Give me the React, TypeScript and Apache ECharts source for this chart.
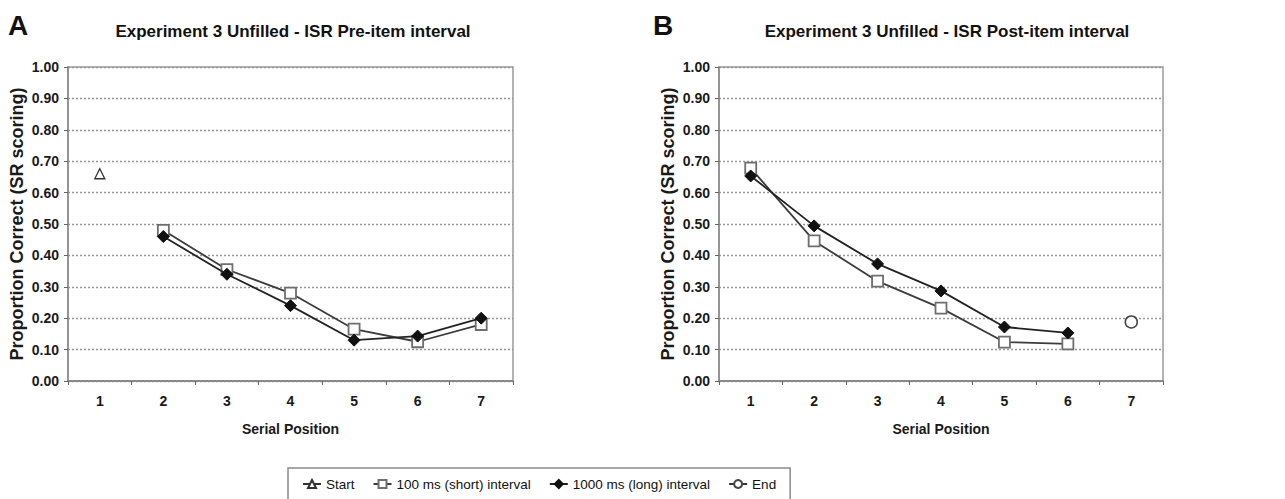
import React, { useEffect, useRef } from "react";
import * as echarts from "echarts";

// Serial positions on the x axis
const positions = ["1", "2", "3", "4", "5", "6", "7"];

// Panel titles
const panelLetters = ["A", "B"];
const panelTitles = [
  "Experiment 3 Unfilled - ISR Pre-item interval",
  "Experiment 3 Unfilled - ISR Post-item interval",
];

// Series names
const nameStart = "Start";
const nameShort = "100 ms (short) interval";
const nameLong = "1000 ms (long) interval";
const nameEnd = "End";

// Panel A: pre-item interval (proportion correct, SR scoring)
const preStart = [0.66, null, null, null, null, null, null];
const preShort = [null, 0.48, 0.355, 0.28, 0.165, 0.125, 0.18];
const preLong = [null, 0.46, 0.34, 0.24, 0.13, 0.143, 0.2];

// Panel B: post-item interval
const postShort = [0.678, 0.446, 0.318, 0.232, 0.124, 0.118, null];
const postLong = [0.653, 0.494, 0.373, 0.287, 0.172, 0.153, null];
const postEnd = [null, null, null, null, null, null, 0.188];

const FONT = '"Liberation Sans", Arial, sans-serif';
const toData = (arr: (number | null)[]) => arr.map((v) => (v === null ? "-" : v));

export default function App() {
  const ref = useRef<HTMLDivElement>(null);

  useEffect(() => {
    document.body.style.margin = "0";
    if (!ref.current) return;
    const chart = echarts.init(ref.current, undefined, { renderer: "svg" });

    const grids = [
      { left: 68, top: 67, width: 445, height: 314 },
      { left: 719, top: 67, width: 444, height: 314 },
    ];

    const xAxis = grids.map((_, i) => ({
      type: "category" as const,
      gridIndex: i,
      data: positions,
      boundaryGap: true,
      axisLine: { lineStyle: { color: "#8a8a8a", width: 2 } },
      axisTick: { show: true, length: 4, lineStyle: { color: "#666", width: 1 } },
      axisLabel: {
        margin: 13,
        fontFamily: FONT,
        fontSize: 14,
        fontWeight: "bold" as const,
        color: "#1a1a1a",
      },
      name: "Serial Position",
      nameLocation: "middle" as const,
      nameGap: 41,
      nameTextStyle: { fontFamily: FONT, fontSize: 14, fontWeight: "bold" as const, color: "#1a1a1a" },
      splitLine: { show: false },
    }));

    const yAxis = grids.map((_, i) => ({
      type: "value" as const,
      gridIndex: i,
      min: 0,
      max: 1,
      interval: 0.1,
      axisLine: { show: true, lineStyle: { color: "#8a8a8a", width: 1.5 } },
      axisTick: { show: true, length: 4, lineStyle: { color: "#666" } },
      axisLabel: {
        margin: 9,
        fontFamily: FONT,
        fontSize: 14,
        fontWeight: "bold" as const,
        color: "#1a1a1a",
        formatter: (v: number) => v.toFixed(2),
      },
      splitLine: { show: true, lineStyle: { color: "#969696", type: [2, 2] as any, width: 1.3 } },
      name: "Proportion Correct (SR scoring)",
      nameLocation: "middle" as const,
      nameGap: 42,
      nameTextStyle: { fontFamily: FONT, fontSize: 18, fontWeight: "bold" as const, color: "#1a1a1a" },
    }));

    const shortStyle = (i: number, data: (number | null)[]) => ({
      name: nameShort,
      type: "line" as const,
      xAxisIndex: i,
      yAxisIndex: i,
      data: toData(data),
      symbol: "rect",
      symbolSize: 11,
      lineStyle: { color: "#3c3c3c", width: 1.8 },
      itemStyle: { color: "#ffffff", borderColor: "#6e6e6e", borderWidth: 1.8 },
      z: 3,
    });
    const longStyle = (i: number, data: (number | null)[]) => ({
      name: nameLong,
      type: "line" as const,
      xAxisIndex: i,
      yAxisIndex: i,
      data: toData(data),
      symbol: "diamond",
      symbolSize: 12,
      lineStyle: { color: "#222", width: 1.8 },
      itemStyle: { color: "#111", borderColor: "#111", borderWidth: 1 },
      z: 4,
    });

    const option = {
      animation: false,
      backgroundColor: "#ffffff",
      grid: grids.map((g) => ({ ...g, show: true, borderColor: "#9a9a9a", borderWidth: 1.5, backgroundColor: "transparent" })),
      xAxis,
      yAxis,
      legend: {
        data: [nameStart, nameShort, nameLong, nameEnd],
        left: 288,
        top: 468,
        padding: [9, 14, 9, 14],
        borderColor: "#8a8a8a",
        borderWidth: 1.5,
        itemGap: 18,
        itemWidth: 18,
        itemHeight: 10,
        textStyle: { fontFamily: FONT, fontSize: 13.5, color: "#111" },
        selectedMode: false,
      },
      graphic: [
        ...panelLetters.map((t, i) => ({
          type: "text",
          x: i === 0 ? 8 : 653,
          y: 25,
          style: {
            text: t,
            font: `bold 28px ${FONT}`,
            fill: "#111",
            textAlign: "left",
            textVerticalAlign: "middle",
            align: "left",
            verticalAlign: "middle",
          },
        })),
        ...panelTitles.map((t, i) => ({
          type: "text",
          x: i === 0 ? 293 : 947,
          y: 31,
          style: {
            text: t,
            font: `bold 17px ${FONT}`,
            fill: "#111",
            textAlign: "center",
            textVerticalAlign: "middle",
            align: "center",
            verticalAlign: "middle",
          },
        })),
      ],
      series: [
        {
          name: nameStart,
          type: "line",
          xAxisIndex: 0,
          yAxisIndex: 0,
          data: toData(preStart),
          symbol: "triangle",
          symbolSize: 10,
          lineStyle: { color: "#333", width: 1.5 },
          itemStyle: { color: "#ffffff", borderColor: "#333", borderWidth: 1.3 },
        },
        shortStyle(0, preShort),
        longStyle(0, preLong),
        shortStyle(1, postShort),
        longStyle(1, postLong),
        {
          name: nameEnd,
          type: "line",
          xAxisIndex: 1,
          yAxisIndex: 1,
          data: toData(postEnd),
          symbol: "circle",
          symbolSize: 12,
          lineStyle: { color: "#333", width: 1.5 },
          itemStyle: { color: "#ffffff", borderColor: "#444", borderWidth: 1.5 },
        },
      ],
    };

    chart.setOption(option as any);
    return () => chart.dispose();
  }, []);

  return <div ref={ref} style={{ width: 1285, height: 499 }} />;
}
